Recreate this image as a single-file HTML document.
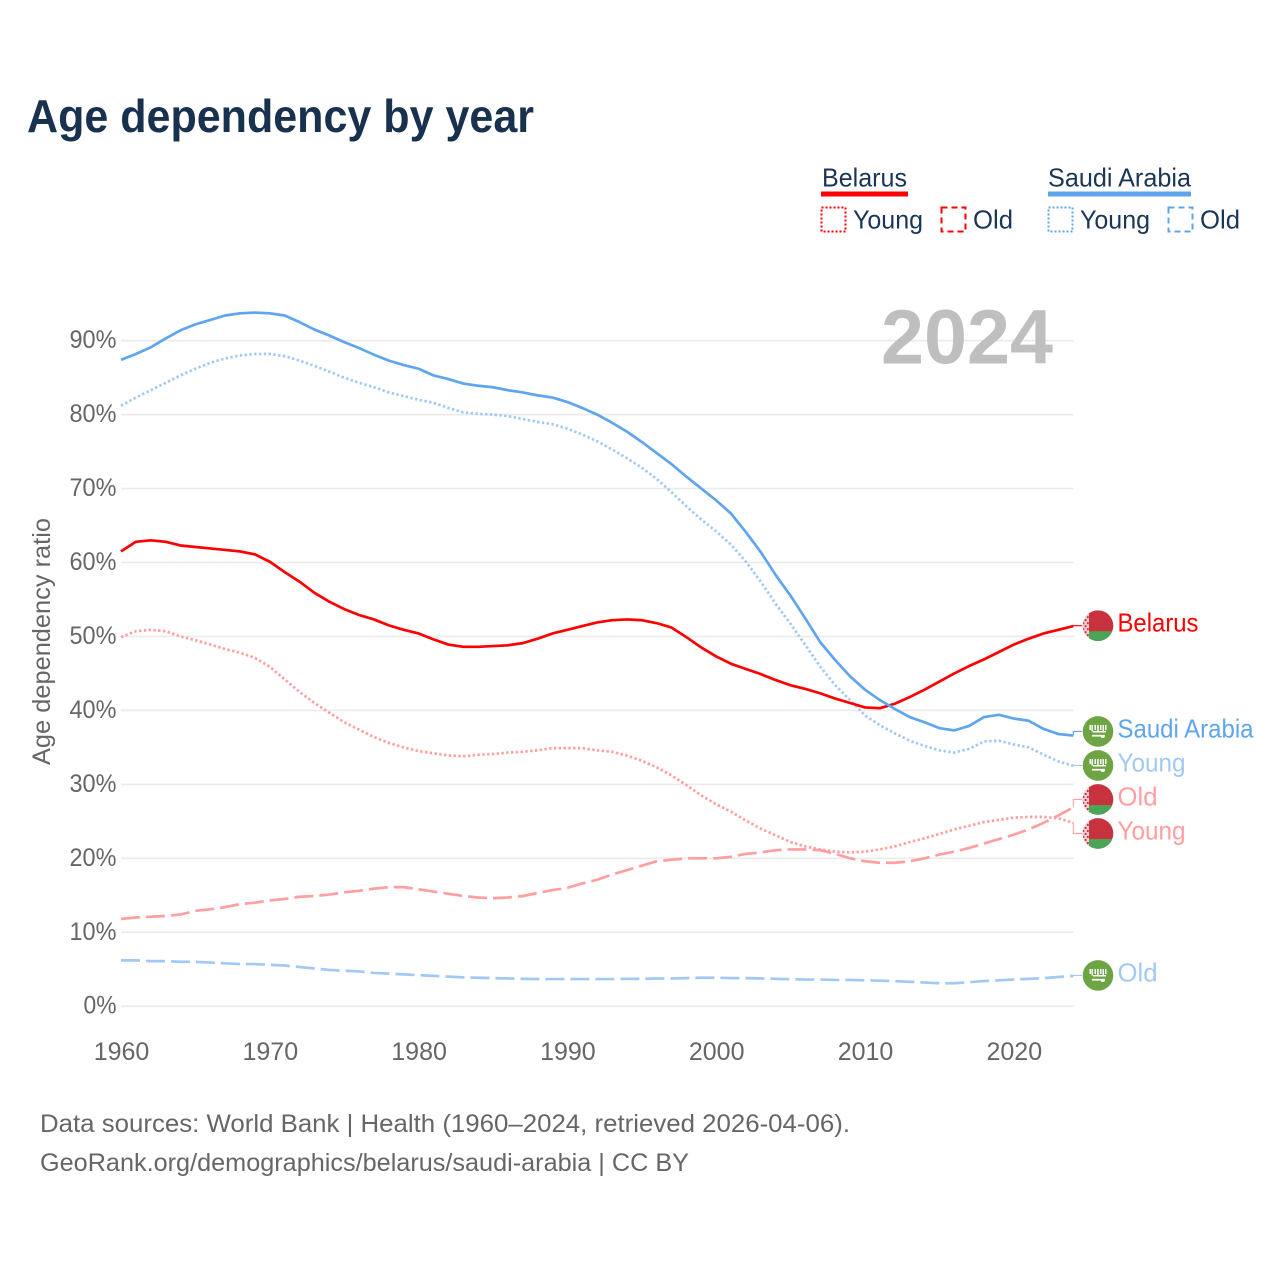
<!DOCTYPE html>
<html lang="en">
<head>
<meta charset="utf-8">
<title>Age dependency by year</title>
<style>
html,body{margin:0;padding:0;background:#fff;}
svg{display:block;font-family:"Liberation Sans",sans-serif;}
</style>
</head>
<body>
<svg id="chart" xmlns="http://www.w3.org/2000/svg" width="1280" height="1280" viewBox="0 0 1280 1280">
  <rect width="1280" height="1280" fill="#fff"/>
  <text x="27" y="132" font-size="46" font-weight="700" fill="#17314f" textLength="507" lengthAdjust="spacingAndGlyphs">Age dependency by year</text>

  <g font-size="26" fill="#1a3556">
    <g>
      <text x="822" y="186.5" textLength="85" lengthAdjust="spacingAndGlyphs">Belarus</text>
      <rect x="821" y="191.5" width="87" height="5" fill="#ff0000"/>
      <rect x="821.5" y="207.5" width="24" height="24" fill="none" stroke="#ff0000" stroke-width="2" stroke-dasharray="2 2"/>
      <text x="853" y="228.5" textLength="70" lengthAdjust="spacingAndGlyphs">Young</text>
      <rect x="941.5" y="207.5" width="24" height="24" fill="none" stroke="#ff0000" stroke-width="2" stroke-dasharray="6 4"/>
      <text x="973" y="228.5" textLength="40" lengthAdjust="spacingAndGlyphs">Old</text>
    </g>
    <g>
      <text x="1048" y="186.5" textLength="143" lengthAdjust="spacingAndGlyphs">Saudi Arabia</text>
      <rect x="1048" y="191.5" width="143" height="5" fill="#5fa5ee"/>
      <rect x="1048.5" y="207.5" width="24" height="24" fill="none" stroke="#5fa5ee" stroke-width="2" stroke-dasharray="2 2"/>
      <text x="1080" y="228.5" textLength="70" lengthAdjust="spacingAndGlyphs">Young</text>
      <rect x="1168.5" y="207.5" width="24" height="24" fill="none" stroke="#5fa5ee" stroke-width="2" stroke-dasharray="6 4"/>
      <text x="1200" y="228.5" textLength="40" lengthAdjust="spacingAndGlyphs">Old</text>
    </g>
  </g>

  <g id="grid"></g>
  <text x="881" y="363.5" font-size="77" font-weight="700" fill="#bfbfbf" textLength="172" lengthAdjust="spacingAndGlyphs">2024</text>
  <g id="y-axis" font-size="25" fill="#666"></g>
  <g id="x-axis" font-size="25" fill="#666"></g>
  <text transform="translate(50,765) rotate(-90)" font-size="25" fill="#666" textLength="247" lengthAdjust="spacingAndGlyphs">Age dependency ratio</text>
  <g id="series"></g>
  <g id="end-labels" font-size="26"></g>

  <g font-size="25" fill="#666">
    <text x="40" y="1132" textLength="810" lengthAdjust="spacingAndGlyphs">Data sources: World Bank | Health (1960–2024, retrieved 2026-04-06).</text>
    <text x="40" y="1171" textLength="649" lengthAdjust="spacingAndGlyphs">GeoRank.org/demographics/belarus/saudi-arabia | CC BY</text>
  </g>
</svg>

<script>
const years = [1960,1961,1962,1963,1964,1965,1966,1967,1968,1969,1970,1971,1972,1973,1974,1975,1976,1977,1978,1979,1980,1981,1982,1983,1984,1985,1986,1987,1988,1989,1990,1991,1992,1993,1994,1995,1996,1997,1998,1999,2000,2001,2002,2003,2004,2005,2006,2007,2008,2009,2010,2011,2012,2013,2014,2015,2016,2017,2018,2019,2020,2021,2022,2023,2024];
const yTickValues = [0,10,20,30,40,50,60,70,80,90];
const xTickValues = [1960,1970,1980,1990,2000,2010,2020];
const belarusTotal = [61.5,62.8,63.0,62.8,62.3,62.1,61.9,61.7,61.5,61.1,60.1,58.7,57.4,55.9,54.7,53.7,52.9,52.3,51.5,50.9,50.4,49.6,48.9,48.6,48.6,48.7,48.8,49.1,49.7,50.4,50.9,51.4,51.9,52.2,52.3,52.2,51.8,51.2,49.9,48.5,47.3,46.3,45.6,44.9,44.1,43.4,42.9,42.3,41.6,41.0,40.4,40.3,40.9,41.8,42.8,43.9,45.0,46.0,46.9,47.9,48.9,49.7,50.4,50.9,51.4];
const belarusYoung = [49.9,50.7,50.9,50.7,50.0,49.5,48.9,48.3,47.8,47.1,45.9,44.2,42.5,41.0,39.7,38.4,37.4,36.4,35.6,35.0,34.5,34.2,33.9,33.8,34.0,34.1,34.3,34.4,34.6,34.9,34.9,34.9,34.6,34.4,33.9,33.2,32.3,31.2,29.9,28.5,27.3,26.3,25.1,24.0,23.1,22.2,21.6,21.2,20.9,20.8,20.9,21.2,21.6,22.2,22.7,23.3,23.9,24.4,24.9,25.2,25.5,25.6,25.6,25.4,24.8];
const belarusOld = [11.8,12.0,12.1,12.2,12.4,12.9,13.1,13.4,13.8,14.0,14.3,14.5,14.8,14.9,15.1,15.4,15.6,15.9,16.1,16.1,15.8,15.5,15.2,14.9,14.7,14.6,14.7,14.9,15.3,15.7,16.0,16.6,17.1,17.8,18.4,19.0,19.6,19.8,20.0,20.0,20.0,20.2,20.6,20.8,21.1,21.2,21.2,21.1,20.6,20.0,19.6,19.4,19.4,19.6,20.0,20.5,20.9,21.4,22.0,22.6,23.2,23.9,24.8,25.8,26.9];
const saudiTotal = [87.4,88.2,89.1,90.3,91.4,92.2,92.8,93.4,93.7,93.8,93.7,93.4,92.5,91.5,90.7,89.8,89.0,88.1,87.3,86.7,86.2,85.3,84.8,84.2,83.9,83.7,83.3,83.0,82.6,82.3,81.7,80.9,80.0,78.9,77.7,76.3,74.8,73.3,71.6,70.0,68.4,66.6,64.1,61.4,58.3,55.5,52.4,49.2,46.8,44.6,42.8,41.4,40.2,39.1,38.4,37.6,37.3,37.9,39.1,39.4,38.9,38.6,37.5,36.8,36.6];
const saudiYoung = [81.2,82.3,83.3,84.3,85.3,86.2,87.0,87.6,88.0,88.2,88.2,87.9,87.3,86.6,85.8,85.0,84.3,83.7,83.0,82.5,82.0,81.6,80.9,80.3,80.1,80.0,79.8,79.4,79.0,78.7,78.1,77.3,76.4,75.3,74.1,72.8,71.3,69.5,67.6,65.8,64.2,62.4,60.1,57.4,54.4,51.7,48.8,45.9,43.4,41.4,39.3,38.0,36.9,35.9,35.2,34.6,34.3,34.8,35.8,35.9,35.4,35.0,34.0,33.1,32.5];
const saudiOld = [6.2,6.2,6.1,6.1,6.0,6.0,5.9,5.8,5.7,5.7,5.6,5.5,5.3,5.1,4.9,4.8,4.7,4.5,4.4,4.3,4.2,4.1,4.0,3.9,3.85,3.8,3.75,3.7,3.67,3.67,3.67,3.67,3.67,3.67,3.7,3.7,3.75,3.75,3.8,3.85,3.85,3.8,3.8,3.75,3.7,3.65,3.6,3.6,3.55,3.55,3.5,3.45,3.4,3.3,3.2,3.1,3.1,3.25,3.4,3.5,3.6,3.7,3.8,3.95,4.1];

const SVG_NS = 'http://www.w3.org/2000/svg';
const xScale = year => 121 + (year - 1960) * 14.88;
const yScale = pct => 1006.2 - pct * 7.395;

function make(tag, parent, attrs) {
  const el = document.createElementNS(SVG_NS, tag);
  for (const k in attrs) el.setAttribute(k, attrs[k]);
  parent.appendChild(el);
  return el;
}

const gridLayer = document.getElementById('grid');
const yAxisLayer = document.getElementById('y-axis');
yTickValues.forEach(v => {
  const line = make('line', gridLayer, {x1: 121, x2: 1073.5, y1: yScale(v), y2: yScale(v), stroke: '#ebebeb', 'stroke-width': 1.7});
  
  
  const label = String(v) + '%';
  const t = make('text', yAxisLayer, {x: 116.5, y: yScale(v) + 7.5, 'text-anchor': 'end', textLength: 19 + 14 * String(v).length, lengthAdjust: 'spacingAndGlyphs'});
  t.textContent = label;
  
  
});

const xAxisLayer = document.getElementById('x-axis');
xTickValues.forEach(v => {
  const t = make('text', xAxisLayer, {x: xScale(v) + 0.5, y: 1060, 'text-anchor': 'middle'});
  t.textContent = String(v);
  
  
});

const PALE_RED = '#ff9fa1';
const PALE_BLUE = '#a2c9f3';
const RED = '#ff0000';
const BLUE = '#5fa5ee';
const DOT = '2.4 2.4';
const DASH = '19 6';
const seriesLayer = document.getElementById('series');
const seriesList = [
  {key: 'saudi-old', values: saudiOld, color: PALE_BLUE, dash: DASH, label: 'Old', flag: 'sa'},
  {key: 'saudi-young', values: saudiYoung, color: PALE_BLUE, dash: DOT, label: 'Young', flag: 'sa'},
  {key: 'belarus-old', values: belarusOld, color: PALE_RED, dash: DASH, label: 'Old', flag: 'by'},
  {key: 'belarus-young', values: belarusYoung, color: PALE_RED, dash: DOT, label: 'Young', flag: 'by'},
  {key: 'belarus-total', values: belarusTotal, color: RED, dash: null, label: 'Belarus', flag: 'by'},
  {key: 'saudi-total', values: saudiTotal, color: BLUE, dash: null, label: 'Saudi Arabia', flag: 'sa'}
];
seriesList.forEach(s => {
  const pts = s.values.map((v, i) => xScale(years[i]).toFixed(2) + ',' + yScale(v).toFixed(2)).join(' ');
  const attrs = {points: pts, fill: 'none', stroke: s.color, 'stroke-width': 2.7, 'stroke-linejoin': 'round'};
  if (s.dash) attrs['stroke-dasharray'] = s.dash;
  const line = make('polyline', seriesLayer, attrs);
  
  
});

/* End labels: overlapping labels are merged into clusters around their mean position. */
const LABEL_GAP = 34;
const entries = seriesList.map(s => ({s: s, end: yScale(s.values[s.values.length - 1])})).sort((a, b) => a.end - b.end);
let clusters = entries.map(e => ({items: [e], mean: e.end}));
let merged = true;
while (merged) {
  merged = false;
  for (let i = 0; i < clusters.length - 1; i++) {
    const a = clusters[i], b = clusters[i + 1];
    const aBottom = a.mean + (a.items.length - 1) * LABEL_GAP / 2;
    const bTop = b.mean - (b.items.length - 1) * LABEL_GAP / 2;
    if (bTop - aBottom < LABEL_GAP) {
      const items = a.items.concat(b.items);
      clusters.splice(i, 2, {items: items, mean: items.reduce((t, e) => t + e.end, 0) / items.length});
      merged = true;
      break;
    }
  }
}
clusters.forEach(c => c.items.forEach((e, i) => {
  e.labelY = c.mean + (i - (c.items.length - 1) / 2) * LABEL_GAP;
}));

const labelLayer = document.getElementById('end-labels');
const xEnd = xScale(years[years.length - 1]);
const FLAG_X = 1098;
const FLAG_R = 15.3;
const labelWidths = {'Belarus': 81, 'Saudi Arabia': 136, 'Young': 68, 'Old': 40};

function drawBelarusFlag(g, cy, id) {
  const clip = make('clipPath', g, {id: id});
  make('circle', clip, {cx: FLAG_X, cy: cy, r: FLAG_R});
  const inner = make('g', g, {'clip-path': 'url(#' + id + ')'});
  make('rect', inner, {x: FLAG_X - 16, y: cy - 16, width: 32, height: 32, fill: '#c8313e'});
  make('rect', inner, {x: FLAG_X - 16, y: cy + 5.6, width: 32, height: 11, fill: '#4aa657'});
  make('rect', inner, {x: FLAG_X - 16, y: cy - 16, width: 7, height: 32, fill: '#eecfd1'});
  for (let row = 0; row < 11; row++) {
    for (let col = 0; col < 3; col++) {
      if ((row + col) % 2 === 0) {
        make('rect', inner, {x: FLAG_X - 15.5 + col * 2.2, y: cy - 15.5 + row * 3, width: 1.8, height: 2, fill: '#c8313e'});
      }
    }
  }
}

function drawSaudiFlag(g, cy, id) {
  make('circle', g, {cx: FLAG_X, cy: cy, r: FLAG_R, fill: '#6da544'});
  const mark = make('g', g, {fill: '#fff'});
  const offsets = [-8.5, -6.5, -3.5, -0.8, 2, 4.5, 7];
  offsets.forEach((dx, i) => {
    make('rect', mark, {x: FLAG_X + dx, y: cy - 6.5, width: 1.5, height: i % 2 ? 6.5 : 5, fill: '#fff'});
  });
  make('rect', mark, {x: FLAG_X - 5, y: cy - 0.5, width: 13, height: 1.5});
  make('rect', mark, {x: FLAG_X - 6, y: cy + 3.4, width: 13, height: 1.7});
  make('rect', mark, {x: FLAG_X + 3, y: cy + 4.4, width: 3.5, height: 2});
}

entries.forEach((e, idx) => {
  const s = e.s;
  const g = make('g', labelLayer, {});
  
  
  const labelY = e.labelY - 0.4;
  const leaderAttrs = {points: xEnd + ',' + e.end.toFixed(2) + ' ' + xEnd + ',' + labelY.toFixed(2) + ' 1082,' + labelY.toFixed(2), fill: 'none', stroke: s.color, 'stroke-width': 1.1};
  const leader = make('polyline', g, leaderAttrs);
  
  
  const flag = make('g', g, {});
  
  
  if (s.flag === 'by') drawBelarusFlag(flag, labelY, 'clip-flag-' + idx);
  else drawSaudiFlag(flag, labelY, 'clip-flag-' + idx);
  const t = make('text', g, {x: 1117.5, y: labelY + 6, fill: s.color, textLength: labelWidths[s.label], lengthAdjust: 'spacingAndGlyphs'});
  t.textContent = s.label;
  
  
});
</script>
</body>
</html>
